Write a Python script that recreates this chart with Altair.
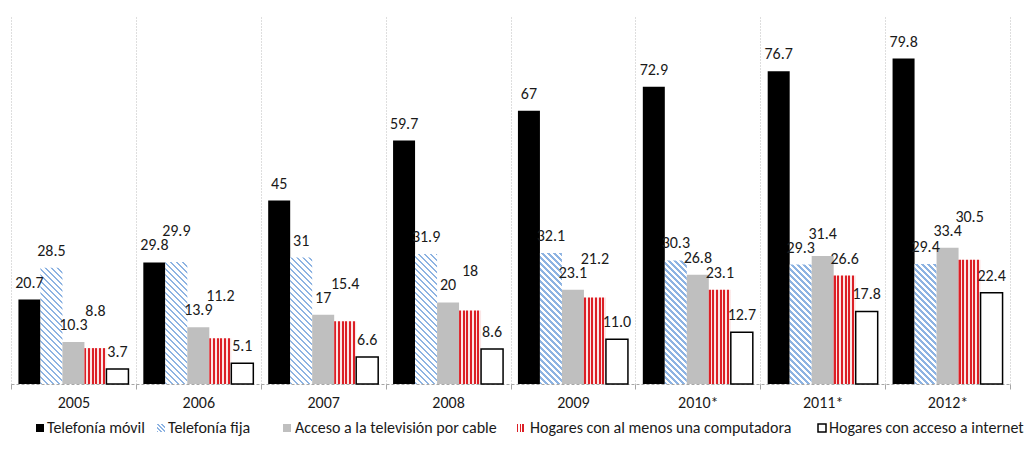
import altair as alt
import pandas as pd

# ---------------- data ----------------
years = ["2005", "2006", "2007", "2008", "2009", "2010*", "2011*", "2012*"]
series = [
    "Telefonía móvil",
    "Telefonía fija",
    "Acceso a la televisión por cable",
    "Hogares con al menos una computadora",
    "Hogares con acceso a internet",
]
movil = [20.7, 29.8, 45, 59.7, 67, 72.9, 76.7, 79.8]
fija = [28.5, 29.9, 31, 31.9, 32.1, 30.3, 29.3, 29.4]
cable = [10.3, 13.9, 17, 20, 23.1, 26.8, 31.4, 33.4]
computadora = [8.8, 11.2, 15.4, 18, 21.2, 23.1, 26.6, 30.5]
internet = [3.7, 5.1, 6.6, 8.6, 11.0, 12.7, 17.8, 22.4]

# ---------------- layout / style ----------------
W, H = 999, 367
YMAX = 90
PX = H / YMAX
PAD = {"left": 11, "top": 17, "right": 18, "bottom": 75}
BAR_W = 22.0
PO = ((W / len(years)) / BAR_W - len(series)) / 2.0
FONT = "Carlito, Lato"
FS = 16
BLUE = "#8db3e2"
RED = "#dc1f26"
GRAY = "#bfbfbf"
TXT = "#1a1a1a"
LABEL_GAP = 17      # px between bar top and label centre
LABEL_STEP = 14     # px needed between neighbouring labels

rows = []
all_vals = [movil, fija, cable, computadora, internet]
for j, y in enumerate(years):
    prev = None
    for s, vals in zip(series, all_vals):
        v = vals[j]
        ly = H - v * PX - LABEL_GAP          # label centre, px from top
        if prev is not None and abs(ly - prev) < LABEL_STEP:
            ly = prev - LABEL_STEP
        prev = ly
        rows.append({"year": y, "series": s, "value": float(v), "label": str(v),
                     "lpos": (H - ly) / PX})
df = pd.DataFrame(rows)


def hatch(h, w, color, period=6.0, frac=0.42):
    """diagonal '\\' stripes at 45 degrees for a w x h rect (objectBoundingBox gradient)"""
    h = max(h, 0.5)
    L = w + h
    k = L / (w * w + h * h)
    stops = []
    s = 0.0
    while s < L:
        a = s / L
        b = min((s + period * frac) / L, 1.0)
        c = min((s + period) / L, 1.0)
        stops += [(a, color), (b, color), (b, "#ffffff"), (c, "#ffffff")]
        s += period
    return {
        "gradient": "linear",
        "x1": 0, "y1": 1, "x2": k * w, "y2": 1 - k * h,
        "stops": [{"offset": o, "color": col} for o, col in stops],
    }


def vstripes(color, n=6, frac=0.55, gap="#fbe6e6"):
    stops = []
    for i in range(n):
        a = i / n
        b = (i + frac) / n
        c = (i + 1) / n
        stops += [(a, color), (b, color), (b, gap), (c, gap)]
    return {
        "gradient": "linear",
        "x1": 0, "y1": 0, "x2": 1, "y2": 0,
        "stops": [{"offset": o, "color": col} for o, col in stops],
    }


X = alt.X(
    "year:N", sort=years, title=None,
    scale=alt.Scale(paddingInner=0, paddingOuter=0),
    axis=alt.Axis(
        labelAngle=0, grid=True, gridDash=[1, 2], gridColor="#bdbdbd",
        tickBand="extent", tickSize=5, tickColor="#a6a6a6",
        domainColor="#a6a6a6", domainDash=[3, 2],
        labelFont=FONT, labelFontSize=FS, labelColor=TXT, labelPadding=5,
    ),
)
XO = alt.XOffset("series:N", sort=series,
                 scale=alt.Scale(domain=series, paddingInner=0, paddingOuter=PO))
Y = alt.Y("value:Q", scale=alt.Scale(domain=[0, YMAX], nice=False, zero=True), axis=None)

base = alt.Chart(df).encode(x=X, xOffset=XO, y=Y)


def only(name):
    return base.transform_filter(alt.datum.series == name)


layers = []
layers.append(only(series[0]).mark_bar(fill="#000000"))
for yr, v in zip(years, fija):
    h = v * PX
    layers.append(
        base.transform_filter((alt.datum.series == series[1]) & (alt.datum.year == yr))
        .mark_bar(fill=hatch(h, BAR_W, BLUE))
    )
layers.append(only(series[2]).mark_bar(fill=GRAY))
layers.append(only(series[3]).mark_bar(fill=vstripes(RED)))
layers.append(only(series[4]).mark_bar(fill="#ffffff", stroke="#000000", strokeWidth=1.5))

layers.append(
    base.mark_text(baseline="middle", font=FONT, fontSize=FS, color=TXT)
    .encode(y=alt.Y("lpos:Q"), text="label:N")
)

# ---------------- legend ----------------
LEG_Y = 411
icon_x = [25, 146, 272, 506, 807]
text_x = [36, 157, 284, 519, 818]
ICON = 8
icon_fill = ["#000000", hatch(ICON, ICON, BLUE, period=4.0, frac=0.5), GRAY,
             vstripes(RED, n=3, frac=0.5, gap="#ffffff"), "#ffffff"]
icon_stroke = [None, None, None, None, "#000000"]
for name, ix, tx, f, st in zip(series, icon_x, text_x, icon_fill, icon_stroke):
    d = pd.DataFrame({"series": [name]})
    kw = {"fill": f}
    if st:
        kw.update(stroke=st, strokeWidth=1.5)
    layers.append(
        alt.Chart(d).mark_rect(**kw).encode(
            x=alt.value(ix), x2=alt.value(ix + ICON),
            y=alt.value(LEG_Y - ICON / 2), y2=alt.value(LEG_Y + ICON / 2),
        )
    )
    layers.append(
        alt.Chart(d).mark_text(align="left", baseline="middle", font=FONT, fontSize=FS, color=TXT)
        .encode(x=alt.value(tx), y=alt.value(LEG_Y), text="series:N")
    )

chart = (
    alt.layer(*layers)
    .properties(width=W, height=H, autosize=alt.AutoSizeParams(type="none"), padding=PAD,
                background="white")
    .configure_view(strokeWidth=0)
)

chart.save("out.html", embed_options={"renderer": "svg", "actions": False})
